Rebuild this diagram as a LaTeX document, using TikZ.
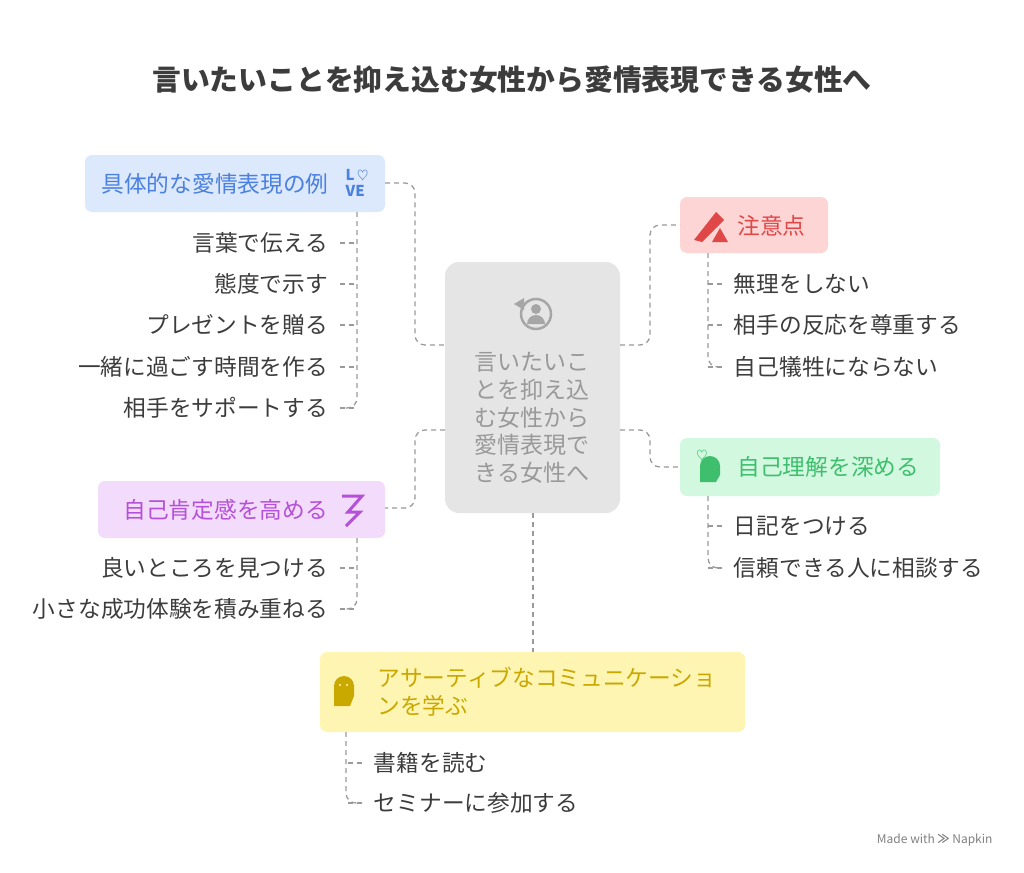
\documentclass[tikz,border=0pt]{standalone}
\usepackage{fontspec}
\setmainfont{Noto Sans CJK JP}
\usetikzlibrary{positioning}
\definecolor{txtgray}{HTML}{3C3C3C}
\definecolor{linegray}{HTML}{9A9A9A}
\definecolor{blueF}{HTML}{DCE8FC}\definecolor{blueT}{HTML}{4A80E0}
\definecolor{redF}{HTML}{FDD5D5}\definecolor{redT}{HTML}{E04848}
\definecolor{greenF}{HTML}{D3F8E0}\definecolor{greenT}{HTML}{3FBF6E}
\definecolor{purpF}{HTML}{F3DBFB}\definecolor{purpT}{HTML}{B550D8}
\definecolor{yelF}{HTML}{FEF5B3}\definecolor{yelT}{HTML}{C9A800}
\tikzset{
  itemL/.style={anchor=east, text=txtgray, font=\fontsize{22.7}{26}\selectfont},
  itemR/.style={anchor=west, text=txtgray, font=\fontsize{22.7}{26}\selectfont},
  link/.style={linegray, dashed, line width=1.3pt, dash pattern=on 5pt off 4pt, rounded corners=10pt},
}
\begin{document}
\begin{tikzpicture}[x=1pt,y=-1pt]
\useasboundingbox (0,0) rectangle (1024,872);
\node[font=\bfseries\fontsize{28.8}{32}\selectfont, text=txtgray] (title) at (512,80) {言いたいことを抑え込む女性から愛情表現できる女性へ};
% center
\fill[gray!20, rounded corners=14pt] (445,262) rectangle (620,513);
\coordinate (cL1) at (445,345); \coordinate (cL2) at (445,430);
\coordinate (cR1) at (620,345); \coordinate (cR2) at (620,430);
\coordinate (cB) at (533,513);
\node[align=center, text=gray!80, font=\fontsize{23}{27.8}\selectfont] (ctext) at (532,418) {言いたいこ\\とを抑え込\\む女性から\\愛情表現で\\きる女性へ};
\draw[gray!70, line width=2.5pt] (536,314) circle (15pt);
\fill[gray!70] (536,309) circle (5pt) (527,324) arc (180:0:9pt) -- cycle;
\fill[gray!70] (514,304) -- (524,298) -- (524,310) -- cycle;
% blue
\fill[blueF, rounded corners=7pt] (85,155) rectangle (385,212);
\node[itemR, text=blueT] (blue) at (98,184) {具体的な愛情表現の例};
\node[text=blueT, font=\bfseries\fontsize{15}{16}\selectfont, align=left] at (357,183) {L\,\textcolor{blueT}{$\heartsuit$}\\VE};
\foreach \t/\y in {言葉で伝える/243,態度で示す/284,プレゼントを贈る/325,一緒に過ごす時間を作る/367,相手をサポートする/408}
  \draw[link] (340,\y) -- (357,\y) node[itemL, at start, xshift=-8pt] {\t};
\draw[link] (357,212) -- (357,408) -- (340,408);
\draw[link] (385,183) -- (415,183) -- (415,345) -- (cL1);
% red
\fill[redF, rounded corners=7pt] (680,197) rectangle (828,253);
\node[itemR, text=redT] (red) at (734,226) {注意点};
\fill[redT] (694,240) -- (716,212) -- (724,220) -- (702,242) -- cycle;
\fill[redT] (712,242) -- (720,228) -- (728,242) -- cycle;
\foreach \t/\y in {無理をしない/284,相手の反応を尊重する/325,自己犠牲にならない/367}
  \draw[link] (722,\y) -- (708,\y) node[itemR, at start, xshift=8pt] {\t};
\draw[link] (708,253) -- (708,367) -- (722,367);
\draw[link] (cR1) -- (650,345) -- (650,225) -- (680,225);
% green
\fill[greenF, rounded corners=7pt] (680,438) rectangle (940,496);
\node[itemR, text=greenT] (green) at (734,467) {自己理解を深める};
\fill[greenT] (700,482) -- (700,466) arc (180:0:10pt) -- (720,475) -- (716,482) -- cycle;
\node[text=greenT, font=\fontsize{14}{14}\selectfont] at (702,456) {$\heartsuit$};
\foreach \t/\y in {日記をつける/526,信頼できる人に相談する/568}
  \draw[link] (722,\y) -- (708,\y) node[itemR, at start, xshift=8pt] {\t};
\draw[link] (708,496) -- (708,568) -- (722,568);
\draw[link] (cR2) -- (650,430) -- (650,467) -- (680,467);
% purple
\fill[purpF, rounded corners=7pt] (98,481) rectangle (385,538);
\node[itemR, text=purpT] (purple) at (120,510) {自己肯定感を高める};
\draw[purpT, line width=3pt] (342,496) -- (362,496) -- (348,512) -- (360,512) -- (346,526);
\foreach \t/\y in {良いところを見つける/568,小さな成功体験を積み重ねる/609}
  \draw[link] (340,\y) -- (357,\y) node[itemL, at start, xshift=-8pt] {\t};
\draw[link] (357,538) -- (357,609) -- (340,609);
\draw[link] (cL2) -- (415,430) -- (415,508) -- (385,508);
% yellow
\fill[yelF, rounded corners=7pt] (320,652) rectangle (745,732);
\node[itemR, text=yelT, align=left, font=\fontsize{22.7}{28}\selectfont] (yellow) at (374,692) {アサーティブなコミュニケーショ\\ンを学ぶ};
\fill[yelT] (334,706) -- (334,686) arc (180:0:10pt) -- (354,696) -- (350,706) -- cycle;
\fill[yelF] (340,685) circle (1.2pt) (347,685) circle (1.2pt);
\foreach \t/\y in {書籍を読む/763,セミナーに参加する/803}
  \draw[link] (362,\y) -- (346,\y) node[itemR, at start, xshift=8pt] {\t};
\draw[link] (346,732) -- (346,803) -- (362,803);
\draw[link] (cB) -- (533,652);
\node[anchor=east, text=gray, font=\fontsize{12}{13}\selectfont] (napkin) at (996,840) {Made with \textbf{≫} Napkin};
\end{tikzpicture}
\end{document}
